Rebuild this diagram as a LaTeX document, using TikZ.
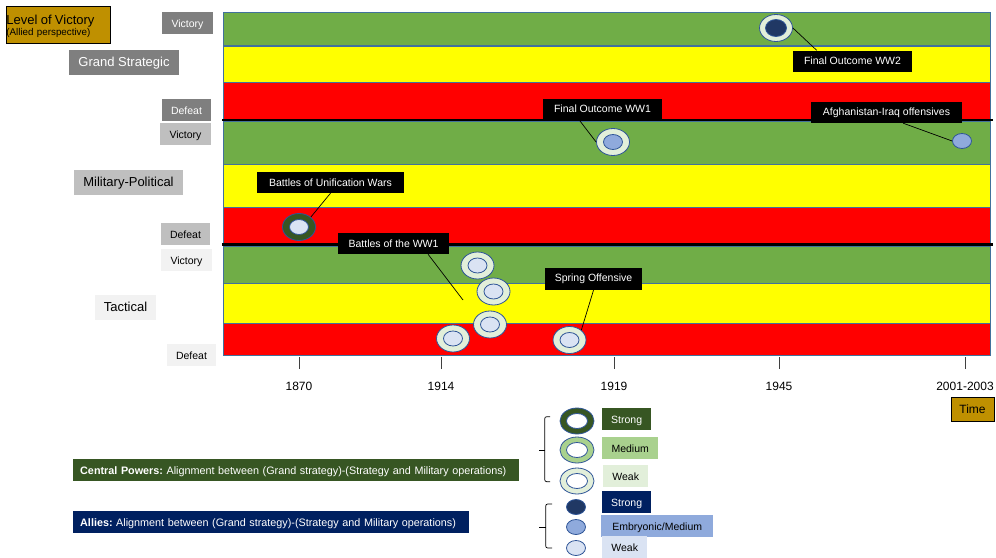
\documentclass[tikz,border=0pt]{standalone}
\usepackage{fontspec}
\setmainfont{Liberation Sans}
\usetikzlibrary{positioning, shapes.geometric, calc}
\frenchspacing

\definecolor{bandgreen}{HTML}{70AD47}
\definecolor{bandyellow}{HTML}{FFFF00}
\definecolor{bandred}{HTML}{FF0000}
\definecolor{bandline}{HTML}{41719C}
\definecolor{gold}{HTML}{BF9000}
\definecolor{greyA}{HTML}{7F7F7F}
\definecolor{greyB}{HTML}{BFBFBF}
\definecolor{greyC}{HTML}{F2F2F2}
\definecolor{cpstrong}{HTML}{375623}
\definecolor{cpmedium}{HTML}{A9D18E}
\definecolor{cpweak}{HTML}{E2EFDA}
\definecolor{alstrong}{HTML}{203864}
\definecolor{allabel}{HTML}{002060}
\definecolor{almedium}{HTML}{8FAADC}
\definecolor{alweak}{HTML}{DAE3F3}
\definecolor{ringline}{HTML}{2F5597}

\newcommand{\pxsize}[1]{\fontsize{#1}{#1}\selectfont}

\begin{document}
\begin{tikzpicture}[
        x=1pt, y=-1pt,
        % ----- styles -----
        band/.style={draw=bandline, line width=0.8pt},
        lvl/.style={minimum height=22pt, inner xsep=4pt, inner ysep=0pt, text height=0.9em, text depth=0pt, font=\pxsize{10.5}},
        big/.style={minimum height=25pt, inner xsep=6pt, inner ysep=0pt, text height=0.85em, text depth=0pt, font=\pxsize{13}},
        callout/.style={fill=black, text=white, minimum height=21pt, inner ysep=0pt, font=\pxsize{10.5}},
        ring/.style={ellipse, draw=ringline, line width=0.8pt, minimum width=33pt, minimum height=27pt, inner sep=0pt},
        dot/.style={ellipse, draw=ringline, line width=0.8pt, minimum width=19pt, minimum height=15pt, inner sep=0pt},
        hole/.style={dot, fill=white, minimum width=21pt},
        key/.style={anchor=west, minimum height=22pt, inner xsep=6pt, inner ysep=0pt, text height=0.9em, text depth=0pt, font=\pxsize{10.5}},
        note/.style={anchor=west, minimum height=22pt, inner xsep=7pt, inner ysep=0pt, text height=0.95em, text depth=0pt, align=left, text=white, font=\pxsize{10.8}},
        year/.style={font=\pxsize{12}},
        pointer/.style={black, line width=0.7pt}
    ]
    \useasboundingbox (0,0) rectangle (996,557);

    % ----- bands -----
    \foreach \col/\ya/\yb in {bandgreen/12.5/45.5, bandyellow/46.5/82, bandred/82/119,
                              bandgreen/121/164, bandyellow/164/207, bandred/207/243,
                              bandgreen/246/283, bandyellow/283/323, bandred/323/355}
        \draw[band, fill=\col] (223,\ya) rectangle (990,\yb);
    \draw[line width=2.5pt] (222,244.5) -- (993,244.5);

    % ----- level labels -----
    \node[anchor=north west, draw=black, line width=0.8pt, fill=gold, minimum width=104pt,
          minimum height=37pt, text width=103pt, inner xsep=0.5pt, inner ysep=1pt, align=left] (level)
          at (5.5,5.5) {{\pxsize{13}\rule{0pt}{13.5pt}Level of Victory}\\[-1pt]{\pxsize{9.8}(Allied perspective)}};
    \node[lvl, fill=greyA, text=white, minimum width=51pt] (vic1) at (187.5,23) {Victory};
    \node[big, fill=greyA, text=white, minimum width=110pt] (grand) at (124,62.5) {Grand Strategic};
    \node[lvl, fill=greyA, text=white, minimum width=49pt] (def1) at (186.5,110) {Defeat};
    \node[lvl, fill=greyB, minimum width=51pt] (vic2) at (185.5,134) {Victory};
    \node[big, fill=greyB, minimum width=109pt] (milpol) at (128.5,182.5) {Military-Political};
    \node[lvl, fill=greyB, minimum width=49pt] (def2) at (185.5,234) {Defeat};
    \node[lvl, fill=greyC, minimum width=51pt] (vic3) at (186.5,260) {Victory};
    \node[big, fill=greyC, minimum width=61pt] (tact) at (125.5,307.5) {Tactical};
    \node[lvl, fill=greyC, minimum width=49pt] (def3) at (191.5,355) {Defeat};

    % ----- time axis -----
    \foreach \x/\yr in {299/1870, 441/1914, 614/1919, 779/1945, 965/2001-2003} {
        \draw[line width=0.8pt, black!75] (\x,357) -- (\x,369);
        \node[year] (yr\yr) at (\x,386) {\yr};
    }
    \node[draw=black, line width=0.8pt, fill=gold, minimum width=43pt, minimum height=24pt,
          inner sep=0pt, font=\pxsize{12}] (time) at (972.5,409) {Time};

    % ----- markers -----
    \node[ring, fill=cpweak] (mww2) at (776,28) {};
    \node[dot, fill=alstrong, minimum width=21pt, minimum height=17pt] (mww2-in) at (mww2) {};
    \node[ring, fill=cpweak] (mww1) at (613,142) {};
    \node[dot, fill=almedium] (mww1-in) at (mww1) {};
    \node[dot, fill=almedium] (mafg) at (962,141) {};
    \node[ring, fill=cpstrong] (muni) at (299,227) {};
    \node[dot, fill=alweak] (muni-in) at (muni) {};
    \foreach \n/\pos in {b1/{(477.5,265.5)}, b2/{(493.5,291.5)}, b3/{(490,324.5)}, b4/{(453,338.5)}, spr/{(569.5,340)}} {
        \node[ring, fill=cpweak] (m\n) at \pos {};
        \node[dot, fill=alweak] (m\n-in) at (m\n) {};
    }
    \coordinate (bat) at (463,300);

    % ----- callouts -----
    \node[callout, minimum width=119pt] (cww2) at (852.5,61) {Final Outcome WW2};
    \node[callout, minimum width=119pt, minimum height=20pt] (cww1) at (602.5,109) {\raisebox{-1.5pt}{Final Outcome WW1}};
    \node[callout, minimum width=151pt] (cafg) at (886.5,112.5) {\raisebox{-3pt}{Afghanistan-Iraq offensives}};
    \node[callout, minimum width=147pt] (cuni) at (330.5,182.5) {Battles of Unification Wars};
    \node[callout, minimum width=111pt] (cbat) at (393.5,243.5) {Battles of the WW1};
    \node[callout, minimum width=97pt, minimum height=22pt] (cspr) at (593.5,279) {Spring Offensive};

    \draw[pointer] (mww2.east) -- ($(cww2.north west)!0.2!(cww2.north east)$);
    \draw[pointer] ($(cww1.south west)!0.3!(cww1.south east)$) -- (mww1.west);
    \draw[pointer] ($(cafg.south west)!0.61!(cafg.south east)$) -- (mafg.west);
    \draw[pointer] (cuni.south) -- (muni.40);
    \draw[pointer] ($(cbat.south west)!0.81!(cbat.south east)$) -- (bat);
    \draw[pointer] (cspr.south) -- (mspr.40);

    % ----- upper level separator -----
    \draw[line width=2.5pt] (222,120) -- (993,120);

    % ----- legend -----
    \node[ring, fill=cpstrong, minimum width=34pt, minimum height=26pt] (ks) at (577,421) {};
    \node[hole] (ks-in) at (ks) {};
    \node[ring, fill=cpmedium, minimum width=34pt, minimum height=26pt] (km) at (577,450) {};
    \node[hole] (km-in) at (km) {};
    \node[ring, fill=cpweak, minimum width=34pt, minimum height=26pt] (kw) at (577,481) {};
    \node[hole] (kw-in) at (kw) {};
    \node[key, fill=cpstrong, text=white, minimum width=49pt] (ls) at (602,419) {Strong};
    \node[key, fill=cpmedium, minimum width=56pt] (lm) at (602,448) {Medium};
    \node[key, fill=cpweak, minimum width=45pt] (lw) at (603,476) {Weak};

    \node[dot, fill=alstrong] (as) at (576,507) {};
    \node[dot, fill=almedium] (am) at (576,527) {};
    \node[dot, fill=alweak] (aw) at (576,548) {};
    \node[key, fill=allabel, text=white, minimum width=49pt] (las) at (602,502) {Strong};
    \node[key, fill=almedium, minimum width=112pt] (lam) at (601,526) {Embryonic/Medium};
    \node[key, fill=alweak, minimum width=45pt] (law) at (602,547) {Weak};

    \draw[line width=0.7pt, rounded corners=2pt] (550,416.7) -- (544.7,416.7) -- (544.7,481.7) -- (550,481.7);
    \draw[line width=0.7pt] (539,450) -- (544.7,450);
    \draw[line width=0.7pt, rounded corners=2pt] (552,504) -- (545.7,504) -- (545.7,548) -- (552,548);
    \draw[line width=0.7pt] (539,527) -- (545.7,527);

    \node[note, fill=cpstrong, text width=432pt] (cpnote) at (73,470)
        {\textbf{Central Powers:} Alignment between (Grand strategy)-(Strategy and Military operations)};
    \node[note, fill=allabel, text width=382pt] (alnote) at (73,522)
        {\textbf{Allies:} Alignment between (Grand strategy)-(Strategy and Military operations)};
\end{tikzpicture}
\end{document}
